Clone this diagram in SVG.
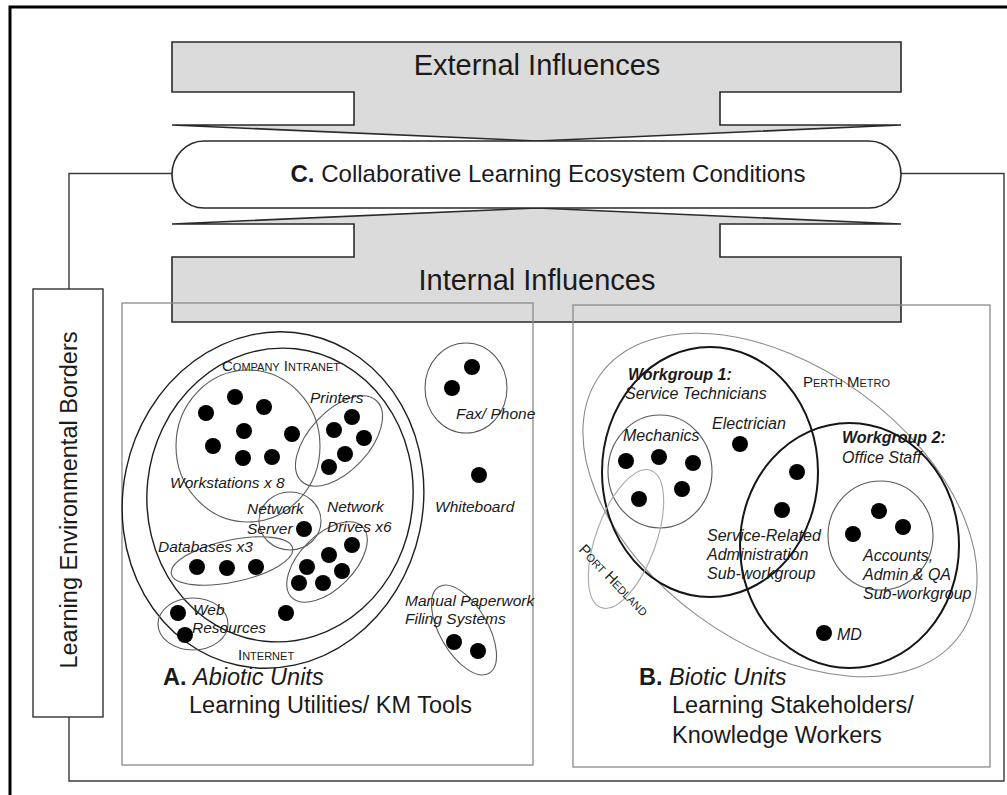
<svg xmlns="http://www.w3.org/2000/svg" width="1007" height="795" viewBox="0 0 1007 795">
<style>
text { font-family: "Liberation Sans", Arial, sans-serif; fill:#1a1a1a; }
.band { fill:#dbdbdb; stroke:#2a2a2a; stroke-width:1.6; }
.pill { fill:#ffffff; stroke:#2a2a2a; stroke-width:1.6; }
.conn { fill:none; stroke:#3a3a3a; stroke-width:1.4; }
.frame { fill:none; stroke:#000; stroke-width:3; }
.panel { fill:none; stroke:#8a8a8a; stroke-width:1.3; }
.box { fill:#ffffff; stroke:#333; stroke-width:1.4; }
.dk { fill:none; stroke:#1e1e1e; stroke-width:1.4; }
.dk2 { fill:none; stroke:#151515; stroke-width:2; }
.gr { fill:none; stroke:#5a5a5a; stroke-width:1.1; }
.lt { fill:none; stroke:#8a8a8a; stroke-width:1.1; }
.lt2 { fill:none; stroke:#a8a8a8; stroke-width:1.1; }
.dot { fill:#000; }
.lbl { font-size:15.5px; font-style:italic; }
.lblB { font-size:16px; font-style:italic; }
.sc { font-size:15px; font-variant:small-caps; }
.big { font-size:23.5px; }
.head { font-size:29px; }
</style>
<rect x="0" y="0" width="1007" height="795" fill="#ffffff"/>
<path class="frame" d="M10,795 V7 H1007"/>

<g id="connectors">
  <path class="conn" d="M172,173.5 H69 V289"/>
  <path class="conn" d="M69,717 V781 H1004 V173.5 H901"/>
</g>

<g id="external-influences">
  <path class="band" d="M172,42 H901 V92 H720 V125 H901 L537,141 L172,125 H354 V92 H172 Z"/>
  <text class="head" x="537" y="75" text-anchor="middle">External Influences</text>
</g>

<g id="internal-influences">
  <path class="band" d="M172,224 L537,208 L901,224 H720 V257 H901 V322 H172 V257 H354 V224 Z"/>
  <text class="head" x="537" y="290" text-anchor="middle">Internal Influences</text>
</g>

<g id="conditions">
  <rect class="pill" x="172" y="141" width="729" height="67" rx="32" ry="33.5"/>
  <text x="548" y="182" text-anchor="middle" font-size="24"><tspan font-weight="bold">C.</tspan> Collaborative Learning Ecosystem Conditions</text>
</g>

<g id="borders">
  <rect class="box" x="33" y="289" width="70" height="428"/>
  <text class="big" transform="translate(77,500) rotate(-90)" text-anchor="middle">Learning Environmental Borders</text>
</g>

<g id="panel-a">
  <rect class="panel" x="122" y="303" width="411" height="462"/>
  <g id="internet">
    <ellipse class="dk" cx="273" cy="500" rx="150" ry="169" transform="rotate(12 273 500)"/>
    <text class="sc" x="238" y="660">Internet</text>
  </g>
  <g id="company-intranet">
    <ellipse class="dk" cx="280" cy="495" rx="133" ry="147" transform="rotate(6 280 495)"/>
    <text class="sc" x="222" y="371">Company Intranet</text>
  </g>
  <g id="workstations">
    <ellipse class="gr" cx="248" cy="446" rx="72" ry="76"/>
    <circle class="dot" cx="206" cy="413" r="8"/>
    <circle class="dot" cx="235" cy="397" r="8"/>
    <circle class="dot" cx="264" cy="407" r="8"/>
    <circle class="dot" cx="244" cy="431" r="8"/>
    <circle class="dot" cx="213" cy="446" r="8"/>
    <circle class="dot" cx="292" cy="434" r="8"/>
    <circle class="dot" cx="243" cy="458" r="8"/>
    <circle class="dot" cx="272" cy="457" r="8"/>
    <text class="lbl" x="170" y="488">Workstations x 8</text>
  </g>
  <g id="printers">
    <ellipse class="gr" cx="339" cy="441" rx="55" ry="30" transform="rotate(-47 339 441)"/>
    <circle class="dot" cx="352" cy="417" r="8"/>
    <circle class="dot" cx="334" cy="430" r="8"/>
    <circle class="dot" cx="364" cy="438" r="8"/>
    <circle class="dot" cx="345" cy="454" r="8"/>
    <circle class="dot" cx="329" cy="467" r="8"/>
    <text class="lbl" x="310" y="403">Printers</text>
  </g>
  <g id="network-server">
    <ellipse class="gr" cx="290" cy="521" rx="31" ry="29"/>
    <circle class="dot" cx="304" cy="529" r="8"/>
    <text class="lbl" x="247" y="514">Network</text>
    <text class="lbl" x="247" y="534">Server</text>
  </g>
  <g id="network-drives">
    <ellipse class="gr" cx="327" cy="562" rx="50" ry="27" transform="rotate(-45 327 562)"/>
    <circle class="dot" cx="352" cy="545" r="8"/>
    <circle class="dot" cx="329" cy="555" r="8"/>
    <circle class="dot" cx="307" cy="567" r="8"/>
    <circle class="dot" cx="342" cy="571" r="8"/>
    <circle class="dot" cx="299" cy="583" r="8"/>
    <circle class="dot" cx="323" cy="583" r="8"/>
    <text class="lbl" x="327" y="512">Network</text>
    <text class="lbl" x="327" y="532">Drives x6</text>
  </g>
  <g id="databases">
    <ellipse class="gr" cx="232" cy="561" rx="62" ry="21" transform="rotate(-12 232 561)"/>
    <circle class="dot" cx="197" cy="567" r="8"/>
    <circle class="dot" cx="227" cy="568" r="8"/>
    <circle class="dot" cx="256" cy="567" r="8"/>
    <text class="lbl" x="158" y="552">Databases x3</text>
  </g>
  <g id="web-resources">
    <ellipse class="gr" cx="193" cy="624" rx="35" ry="26"/>
    <circle class="dot" cx="178" cy="613" r="8"/>
    <circle class="dot" cx="185" cy="635" r="8"/>
    <text class="lbl" x="193" y="615">Web</text>
    <text class="lbl" x="192" y="633">Resources</text>
  </g>
  <g id="intranet-unit">
    <circle class="dot" cx="286" cy="613" r="8"/>
  </g>
  <g id="fax-phone">
    <ellipse class="gr" cx="466" cy="388" rx="41" ry="45"/>
    <circle class="dot" cx="472" cy="367" r="8"/>
    <circle class="dot" cx="452" cy="388" r="8"/>
    <text class="lbl" x="456" y="419">Fax/ Phone</text>
  </g>
  <g id="whiteboard">
    <circle class="dot" cx="479" cy="475" r="8"/>
    <text class="lbl" x="435" y="512">Whiteboard</text>
  </g>
  <g id="manual-paperwork">
    <ellipse class="gr" cx="464" cy="630" rx="50" ry="24" transform="rotate(60 464 630)"/>
    <circle class="dot" cx="454" cy="642" r="8"/>
    <circle class="dot" cx="478" cy="651" r="8"/>
    <text class="lbl" x="405" y="606">Manual Paperwork</text>
    <text class="lbl" x="405" y="624">Filing Systems</text>
  </g>
  <g id="abiotic-title">
    <text class="big" x="163" y="685"><tspan font-weight="bold">A.</tspan> <tspan font-style="italic">Abiotic Units</tspan></text>
    <text class="big" x="189" y="713">Learning Utilities/ KM Tools</text>
  </g>
</g>

<g id="panel-b">
  <rect class="panel" x="573" y="305" width="417" height="462"/>
  <g id="perth-metro">
    <ellipse class="lt" cx="780" cy="505" rx="222" ry="138" transform="rotate(36 780 505)"/>
    <text class="sc" x="803" y="387">Perth Metro</text>
  </g>
  <g id="workgroup-1">
    <ellipse class="dk2" cx="710" cy="472" rx="108" ry="125"/>
    <text class="lblB" x="628" y="380" font-weight="bold">Workgroup 1:</text>
    <text class="lblB" x="625" y="399">Service Technicians</text>
    <circle class="dot" cx="740" cy="444" r="8"/>
    <text class="lblB" x="712" y="429">Electrician</text>
  </g>
  <g id="workgroup-2">
    <ellipse class="dk2" cx="849.5" cy="545.5" rx="109.5" ry="122.5"/>
    <text class="lblB" x="842" y="443" font-weight="bold">Workgroup 2:</text>
    <text class="lblB" x="842" y="463">Office Staff</text>
    <circle class="dot" cx="824" cy="633" r="8"/>
    <text class="lblB" x="837" y="640">MD</text>
  </g>
  <g id="mechanics">
    <ellipse class="gr" cx="660" cy="471.5" rx="52" ry="56.5"/>
    <circle class="dot" cx="626" cy="461" r="8"/>
    <circle class="dot" cx="659" cy="457" r="8"/>
    <circle class="dot" cx="693" cy="463" r="8"/>
    <circle class="dot" cx="682" cy="489" r="8"/>
    <circle class="dot" cx="639" cy="499" r="8"/>
    <text class="lblB" x="623" y="441">Mechanics</text>
  </g>
  <g id="port-hedland">
    <ellipse class="lt2" cx="626" cy="539" rx="30" ry="73" transform="rotate(20 626 539)"/>
    <text class="sc" transform="translate(614,580) rotate(46)" text-anchor="middle" dy="0.35em">Port Hedland</text>
  </g>
  <g id="service-admin">
    <circle class="dot" cx="797" cy="472" r="8"/>
    <circle class="dot" cx="782" cy="510" r="8"/>
    <text class="lblB" x="707" y="541">Service-Related</text>
    <text class="lblB" x="707" y="560">Administration</text>
    <text class="lblB" x="707" y="579">Sub-workgroup</text>
  </g>
  <g id="accounts">
    <ellipse class="gr" cx="880.5" cy="535.5" rx="52.5" ry="54.5"/>
    <circle class="dot" cx="879" cy="511" r="8"/>
    <circle class="dot" cx="903" cy="527" r="8"/>
    <circle class="dot" cx="853" cy="534" r="8"/>
    <text class="lblB" x="863" y="561">Accounts,</text>
    <text class="lblB" x="863" y="580">Admin &amp; QA</text>
    <text class="lblB" x="863" y="599">Sub-workgroup</text>
  </g>
  <g id="biotic-title">
    <text class="big" x="639" y="685"><tspan font-weight="bold">B.</tspan> <tspan font-style="italic">Biotic Units</tspan></text>
    <text class="big" x="672" y="713">Learning Stakeholders/</text>
    <text class="big" x="672" y="743">Knowledge Workers</text>
  </g>
</g>
</svg>
